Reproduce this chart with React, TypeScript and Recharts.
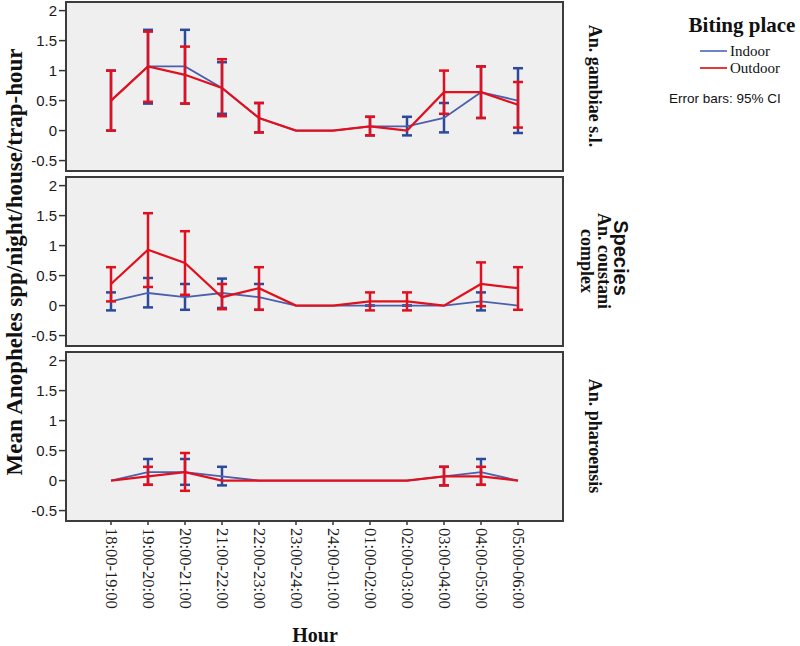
import React from 'react';
import { LineChart, Line, XAxis, YAxis, ErrorBar, CartesianGrid } from 'recharts';

const hours = [
  '18:00-19:00', '19:00-20:00', '20:00-21:00', '21:00-22:00', '22:00-23:00', '23:00-24:00',
  '24:00-01:00', '01:00-02:00', '02:00-03:00', '03:00-04:00', '04:00-05:00', '05:00-06:00',
];

const gambiaeIndoor = [0.5, 1.07, 1.07, 0.71, 0.21, 0, 0, 0.07, 0.07, 0.21, 0.64, 0.5];
const gambiaeIndoorLo = [0, 0.45, 0.45, 0.28, -0.03, null, null, -0.08, -0.08, -0.03, 0.21, -0.04];
const gambiaeIndoorHi = [1.0, 1.68, 1.68, 1.14, 0.46, null, null, 0.23, 0.23, 0.46, 1.07, 1.04];
const gambiaeOutdoor = [0.5, 1.07, 0.93, 0.71, 0.21, 0, 0, 0.07, 0, 0.64, 0.64, 0.43];
const gambiaeOutdoorLo = [0, 0.48, 0.45, 0.24, -0.03, null, null, -0.08, null, 0.28, 0.21, 0.05];
const gambiaeOutdoorHi = [1.0, 1.65, 1.4, 1.19, 0.46, null, null, 0.23, null, 1.0, 1.07, 0.81];

const coustaniIndoor = [0.07, 0.21, 0.14, 0.21, 0.14, 0, 0, 0, 0, 0, 0.07, 0];
const coustaniIndoorLo = [-0.08, -0.03, -0.07, -0.04, -0.07, null, null, 0, 0, null, -0.08, null];
const coustaniIndoorHi = [0.22, 0.46, 0.36, 0.45, 0.36, null, null, 0, 0, null, 0.22, null];
const coustaniOutdoor = [0.36, 0.93, 0.71, 0.14, 0.29, 0, 0, 0.07, 0.07, 0, 0.36, 0.29];
const coustaniOutdoorLo = [0.07, 0.31, 0.18, -0.06, -0.07, null, null, -0.08, -0.08, null, -0.01, -0.07];
const coustaniOutdoorHi = [0.64, 1.54, 1.24, 0.36, 0.64, null, null, 0.22, 0.22, null, 0.72, 0.64];

const pharoensisIndoor = [0, 0.14, 0.14, 0.07, 0, 0, 0, 0, 0, 0.07, 0.14, 0];
const pharoensisIndoorLo = [null, -0.07, -0.07, -0.08, null, null, null, null, null, -0.08, -0.07, null];
const pharoensisIndoorHi = [null, 0.36, 0.36, 0.23, null, null, null, null, null, 0.23, 0.36, null];
const pharoensisOutdoor = [0, 0.07, 0.14, 0, 0, 0, 0, 0, 0, 0.07, 0.07, 0];
const pharoensisOutdoorLo = [null, -0.07, -0.17, null, null, null, null, null, null, -0.08, -0.07, null];
const pharoensisOutdoorHi = [null, 0.23, 0.46, null, null, null, null, null, null, 0.23, 0.23, null];

const yTicks = [-0.5, 0, 0.5, 1, 1.5, 2];

const INDOOR = '#4a5fae';
const INDOOR_BAR = '#2c4a9c';
const OUTDOOR = '#e2101e';
const SERIF = '"Liberation Serif", "Times New Roman", serif';
const SANS = '"Liberation Sans", Arial, sans-serif';

type Num = number | null;

const errOf = (v: number, lo: Num, hi: Num) => (lo == null || hi == null ? null : [v - lo, hi - v]);

const buildRows = (ind: number[], indLo: Num[], indHi: Num[], out: number[], outLo: Num[], outHi: Num[]) =>
  hours.map((hour, i) => ({
    hour,
    indoor: ind[i],
    outdoor: out[i],
    indoorErr: errOf(ind[i], indLo[i], indHi[i]),
    outdoorErr: errOf(out[i], outLo[i], outHi[i]),
  }));

const panels = [
  buildRows(gambiaeIndoor, gambiaeIndoorLo, gambiaeIndoorHi, gambiaeOutdoor, gambiaeOutdoorLo, gambiaeOutdoorHi),
  buildRows(coustaniIndoor, coustaniIndoorLo, coustaniIndoorHi, coustaniOutdoor, coustaniOutdoorLo, coustaniOutdoorHi),
  buildRows(pharoensisIndoor, pharoensisIndoorLo, pharoensisIndoorHi, pharoensisOutdoor, pharoensisOutdoorLo, pharoensisOutdoorHi),
];

const PLOT_H = 167;
const panelTops = [0, 175, 350];

const HourTick = (props: any) => {
  const { x, y, payload } = props;
  return (
    <text
      x={x}
      y={y}
      transform={`rotate(90 ${x} ${y})`}
      textAnchor="start"
      dominantBaseline="central"
      fontFamily={SERIF}
      fontSize={16.5}
      fill="#1a1a1a"
    >
      {payload.value}
    </text>
  );
};

const Panel = ({ data, top, showX }: { data: any[]; top: number; showX: boolean }) => {
  const h = showX ? 3 + PLOT_H + 115 : 3 + PLOT_H + 1;
  return (
    <div style={{ position: 'absolute', left: 0, top }}>
      <LineChart width={570} height={h} data={data} margin={{ top: 3, right: 8, bottom: showX ? 0 : 1, left: 0 }}>
        <CartesianGrid horizontal={false} vertical={false} fill="#efefef" />
        <XAxis
          dataKey="hour"
          hide={!showX}
          height={115}
          padding={{ left: 44, right: 44 }}
          interval={0}
          tickSize={5}
          tickMargin={3}
          tick={<HourTick />}
          tickLine={{ stroke: '#333', strokeWidth: 1.5 }}
          axisLine={false}
        />
        <YAxis
          type="number"
          width={67}
          domain={[-0.657, 2.127]}
          allowDataOverflow
          ticks={yTicks}
          interval={0}
          tickSize={8}
          tickMargin={2}
          axisLine={false}
          tickLine={{ stroke: '#333', strokeWidth: 1.5 }}
          tick={{ fontFamily: SANS, fontSize: 15, fill: '#1a1a1a' }}
        />
        <Line type="linear" dataKey="indoor" stroke={INDOOR} strokeWidth={1.8} dot={false} isAnimationActive={false}>
          <ErrorBar dataKey="indoorErr" direction="y" width={5} stroke={INDOOR_BAR} strokeWidth={2.5} isAnimationActive={false} />
        </Line>
        <Line type="linear" dataKey="outdoor" stroke={OUTDOOR} strokeWidth={2.2} dot={false} isAnimationActive={false}>
          <ErrorBar dataKey="outdoorErr" direction="y" width={5} stroke={OUTDOOR} strokeWidth={2.5} isAnimationActive={false} />
        </Line>
      </LineChart>
      <div
        style={{
          position: 'absolute',
          left: 65,
          top: 1,
          width: 499,
          height: PLOT_H + 4,
          border: '2px solid #3c3c3c',
          boxSizing: 'border-box',
          pointerEvents: 'none',
        }}
      />
    </div>
  );
};

export default function App() {
  return (
    <div style={{ position: 'absolute', left: 0, top: 0, width: 800, height: 646, background: '#fff', overflow: 'hidden' }}>
      {panels.map((data, i) => (
        <Panel key={i} data={data} top={panelTops[i]} showX={i === 2} />
      ))}
      <svg width={800} height={646} style={{ position: 'absolute', left: 0, top: 0, pointerEvents: 'none' }}>
        <text
          x={14}
          y={262}
          transform="rotate(-90 14 262)"
          textAnchor="middle"
          dominantBaseline="central"
          fontFamily={SERIF}
          fontWeight="bold"
          fontSize={23}
          fill="#111"
        >
          Mean Anopheles spp/night/house/trap-hour
        </text>
        <text x={315} y={642} textAnchor="middle" fontFamily={SERIF} fontWeight="bold" fontSize={20} fill="#111">
          Hour
        </text>
        <g fontFamily={SERIF} fontWeight="bold" fontSize={18} fill="#111">
          <text x={595} y={86} transform="rotate(90 595 86)" textAnchor="middle" dominantBaseline="central">
            An. gambiae s.l.
          </text>
          <text x={621} y={258} transform="rotate(90 621 258)" textAnchor="middle" dominantBaseline="central" fontFamily={SANS} fontSize={20}>
            Species
          </text>
          <text x={604} y={261} transform="rotate(90 604 261)" textAnchor="middle" dominantBaseline="central">
            An. coustani
          </text>
          <text x={587} y={261} transform="rotate(90 587 261)" textAnchor="middle" dominantBaseline="central">
            complex
          </text>
          <text x={595} y={436} transform="rotate(90 595 436)" textAnchor="middle" dominantBaseline="central">
            An. pharoensis
          </text>
        </g>
        <text x={742} y={25} textAnchor="middle" dominantBaseline="central" fontFamily={SERIF} fontWeight="bold" fontSize={21} fill="#111">
          Biting place
        </text>
        <line x1={700} x2={727} y1={51} y2={51} stroke="#6f84c6" strokeWidth={2} />
        <text x={730} y={51} dominantBaseline="central" fontFamily={SERIF} fontSize={15} fill="#111">
          Indoor
        </text>
        <line x1={700} x2={727} y1={68} y2={68} stroke="#e03a3a" strokeWidth={2} />
        <text x={730} y={68} dominantBaseline="central" fontFamily={SERIF} fontSize={15} fill="#111">
          Outdoor
        </text>
        <text x={669} y={98} dominantBaseline="central" fontFamily={SANS} fontSize={13.5} fill="#111">
          Error bars: 95% CI
        </text>
      </svg>
    </div>
  );
}
